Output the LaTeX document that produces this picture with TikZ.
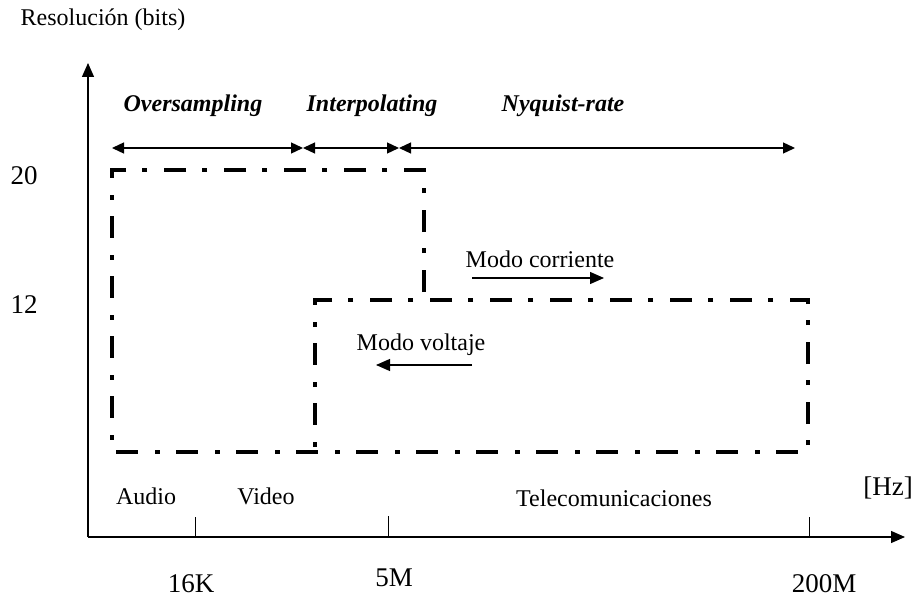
\documentclass[tikz,border=0pt]{standalone}
\usepackage{fontspec}
\setmainfont{Liberation Serif}
\usetikzlibrary{arrows.meta}
\begin{document}
\begin{tikzpicture}[x=1pt,y=-1pt,
  lbl/.style={anchor=base,inner sep=0pt,font=\fontsize{24}{28}\selectfont},
  biglbl/.style={anchor=base,inner sep=0pt,font=\fontsize{27}{31}\selectfont},
  rangelbl/.style={anchor=base,inner sep=0pt,font=\fontsize{24}{28}\selectfont\bfseries\itshape},
  axis/.style={line width=1.3pt,-{Triangle[length=14pt,width=12pt]}},
  tick/.style={line width=0.9pt},
  rng/.style={line width=1.3pt,{Triangle[length=12pt,width=11pt]}-{Triangle[length=12pt,width=11pt]}},
  modo/.style={line width=1.2pt,-{Triangle[length=14pt,width=12pt]}},
  region/.style={line width=4pt,dash pattern=on 22pt off 17pt on 5pt off 16pt}]
\useasboundingbox (0,0) rectangle (915,599);
% axes
\coordinate (O) at (88,537);
\coordinate (ytip) at (88,63);
\coordinate (xtip) at (905,537);
\draw[axis] (O) -- (ytip);
\draw[axis] (O) -- (xtip);
% ticks
\coordinate (t1a) at (195,537); \coordinate (t1b) at (195,517);
\coordinate (t2a) at (388,537); \coordinate (t2b) at (388,516);
\coordinate (t3a) at (809,537); \coordinate (t3b) at (809,517);
\draw[tick] (t1a) -- (t1b);
\draw[tick] (t2a) -- (t2b);
\draw[tick] (t3a) -- (t3b);
% axis labels
\node[lbl] (ylabel) at (103,26) {Resolución (bits)};
\node[biglbl] (l20) at (24,184) {20};
\node[biglbl] (l12) at (24,313) {12};
\node[biglbl] (l16k) at (191,592) {16K};
\node[biglbl] (l5m) at (394,586) {5M};
\node[biglbl] (l200m) at (824,592) {200M};
\node[biglbl] (hz) at (888,495) {[Hz]};
\node[lbl] (audio) at (146,504) {Audio};
\node[lbl] (video) at (266,504) {Video};
\node[lbl] (tele) at (614,506) {Telecomunicaciones};
% range labels and arrows
\node[rangelbl] (over) at (193,112) {Oversampling};
\node[rangelbl] (inter) at (372,112) {Interpolating};
\node[rangelbl] (nyq) at (563,112) {Nyquist-rate};
\coordinate (r0) at (112,148);
\coordinate (r1) at (303,148);
\coordinate (r2) at (399,148);
\coordinate (r3) at (795,148);
\draw[rng] (r0) -- (r1);
\draw[rng] (r1) -- (r2);
\draw[rng] (r2) -- (r3);
% regions
\coordinate (a1) at (424,292);
\coordinate (a2) at (424,170);
\coordinate (a3) at (112,170);
\coordinate (a4) at (112,452);
\coordinate (b1) at (808,452);
\coordinate (b2) at (808,300);
\coordinate (b3) at (315,300);
\coordinate (b4) at (315,452);
\draw[region] (a1) -- (a2) -- (a3) -- (a4) -- (b1) -- (b2) -- (b3) -- (b4);
% modes
\node[lbl] (mc) at (540,267) {Modo corriente};
\coordinate (mc1) at (472,278);
\coordinate (mc2) at (604,278);
\draw[modo] (mc1) -- (mc2);
\node[lbl] (mv) at (421,350) {Modo voltaje};
\coordinate (mv1) at (472,365);
\coordinate (mv2) at (376,365);
\draw[modo] (mv1) -- (mv2);
\end{tikzpicture}
\end{document}
